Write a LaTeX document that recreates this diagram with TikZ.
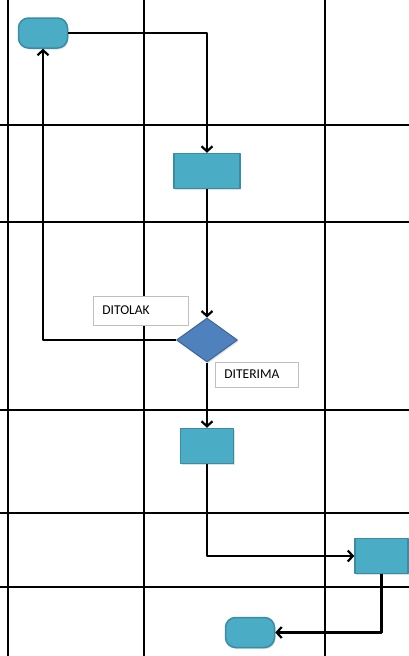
\documentclass[tikz,border=0pt]{standalone}
\usepackage{fontspec}
\setmainfont{Carlito}
\usetikzlibrary{arrows.meta,shapes.geometric,shadows}
\definecolor{isi}{HTML}{4BACC6}
\definecolor{tepi}{HTML}{3A8CA4}
\definecolor{isibelah}{HTML}{4F81BD}
\definecolor{tepibelah}{HTML}{3C6699}
\begin{document}
\begin{tikzpicture}[x=1pt,y=-1pt,line join=round,
		>={Straight Barb[length=5pt,width=11pt]},
		bayang/.style={drop shadow={shadow xshift=1pt,shadow yshift=-1.5pt,opacity=.25}},
		terminal/.style={draw=tepi,fill=isi,line width=1.5pt,rounded corners=10pt,minimum width=49pt,minimum height=30pt,inner sep=0pt,bayang},
		proses/.style={draw=tepi,fill=isi,line width=1.5pt,inner sep=0pt,bayang},
		keputusan/.style={diamond,draw=tepibelah,fill=isibelah,line width=1pt,minimum width=61pt,minimum height=44pt,inner sep=0pt,bayang},
		label/.style={draw=black!25,fill=white,line width=.8pt,font=\fontsize{13.5}{15}\selectfont,align=left,inner xsep=9pt,anchor=west},
		garis/.style={line width=1.6pt},
		alur/.style={line width=2.2pt,->}]
	\useasboundingbox (0,0) rectangle (409,656);
	% garis lajur
	\foreach \gx in {8,144,325} \draw[garis] (\gx,0) -- (\gx,656);
	\foreach \gy in {125,222,410,513,587} \draw[garis] (0,\gy) -- (409,\gy);
	% simbol
	\node[terminal] (mulai) at (43,33) {};
	\node[proses,minimum width=66pt,minimum height=35pt] (proses1) at (207,171) {};
	\node[keputusan] (putusan) at (207,340) {};
	\node[proses,minimum width=53pt,minimum height=35pt] (proses2) at (207,446) {};
	\node[proses,minimum width=53pt,minimum height=35pt] (proses3) at (381.5,556) {};
	\node[terminal] (selesai) at (250,632.5) {};
	\node[label,text width=77pt,minimum height=29pt] (tolak) at (93,310.5) {DITOLAK};
	\node[label,text width=65pt,minimum height=25pt] (terima) at (215,374.5) {DITERIMA};
	% alur
	\draw[alur] (mulai.east) -| (proses1.north);
	\draw[alur] (proses1.south) -- (putusan.north);
	\draw[alur] (putusan.west) -| (mulai.south);
	\draw[alur] (putusan.south) -- (proses2.north);
	\draw[alur] (proses2.south) |- (proses3.west);
	\draw[alur] (proses3.south) |- (selesai.east);
\end{tikzpicture}
\end{document}
